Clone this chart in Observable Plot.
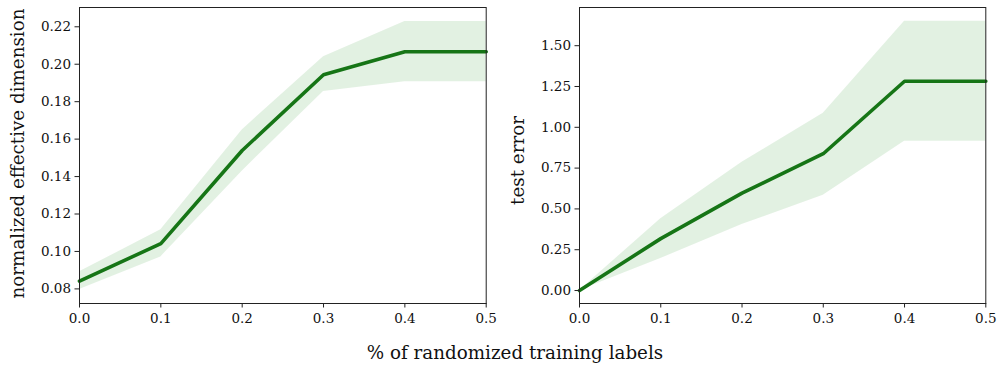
<!DOCTYPE html>
<html>
<head>
<meta charset="utf-8">
<script src="https://cdn.jsdelivr.net/npm/d3@7"></script>
<script src="https://cdn.jsdelivr.net/npm/@observablehq/plot@0.6"></script>
<style>
  html, body { margin: 0; padding: 0; background: #fff; }
  #wrap { position: relative; width: 997px; height: 367px; overflow: hidden; font-family: "DejaVu Serif", serif; }
  .panel { position: absolute; top: 0; }
  .panel svg { overflow: visible; font-family: "DejaVu Serif", serif !important; }
  .panel svg text { font-family: "DejaVu Serif", serif; }
  #xlabel { position: absolute; left: 0; width: 1030px; top: 342px; text-align: center; font-size: 18.3px; color: #111; white-space: nowrap; }
</style>
</head>
<body>
<div id="wrap">
  <div class="panel" id="left" style="left:0px"></div>
  <div class="panel" id="right" style="left:500px"></div>
  <div id="xlabel">% of randomized training labels</div>
</div>
<script>
const fractions = [0.0, 0.1, 0.2, 0.3, 0.4, 0.5];

const effDimMean  = [0.0841, 0.1042, 0.1539, 0.1944, 0.2067, 0.2067];
const effDimLow   = [0.0797, 0.0971, 0.1429, 0.1855, 0.1907, 0.1907];
const effDimHigh  = [0.0891, 0.1116, 0.1649, 0.2040, 0.2228, 0.2228];

const testErrMean = [0.000, 0.318, 0.597, 0.838, 1.282, 1.282];
const testErrLow  = [0.000, 0.196, 0.404, 0.583, 0.915, 0.915];
const testErrHigh = [0.000, 0.440, 0.786, 1.086, 1.649, 1.649];

const xTicks = [0.0, 0.1, 0.2, 0.3, 0.4, 0.5];
const effDimTicks = [0.08, 0.10, 0.12, 0.14, 0.16, 0.18, 0.20, 0.22];
const testErrTicks = [0.00, 0.25, 0.50, 0.75, 1.00, 1.25, 1.50];

const yLabels = ["normalized effective dimension", "test error"];

const lineColor = "#167516";
const bandColor = "#008000";
const serif = "DejaVu Serif";

function panel({mean, low, high, yDomain, yTicks, yLabel, width, marginRight, labelDy}) {
  const rows = fractions.map((f, i) => ({x: f, y: mean[i], lo: low[i], hi: high[i]}));
  return Plot.plot({
    width,
    height: 367,
    marginLeft: 79,
    marginRight,
    marginTop: 7,
    marginBottom: 64,
    style: {fontFamily: serif, fontSize: "13px", color: "#111", background: "transparent", overflow: "visible"},
    x: {domain: [0, 0.5]},
    y: {domain: yDomain},
    marks: [
      Plot.areaY(rows, {x: "x", y1: "lo", y2: "hi", fill: bandColor, fillOpacity: 0.115}),
      Plot.lineY(rows, {x: "x", y: "y", stroke: lineColor, strokeWidth: 3.6, strokeLinejoin: "miter"}),
      Plot.axisX({ticks: xTicks, tickFormat: d3.format(".1f"), tickSize: 4.5, tickPadding: 5, fontSize: 13.5, fontFamily: serif, label: null, stroke: "#222"}),
      Plot.axisY({ticks: yTicks, tickFormat: d3.format(".2f"), tickSize: 4.5, tickPadding: 4, fontSize: 13.5, fontFamily: serif, label: null, stroke: "#222"}),
      Plot.text([yLabel], {frameAnchor: "left", textAnchor: "middle", dx: -61, dy: labelDy, rotate: -90, fontSize: 18.3, fontFamily: serif, fill: "#111", text: d => d}),
      Plot.frame({stroke: "#222", strokeWidth: 1})
    ]
  });
}

document.getElementById("left").appendChild(panel({
  mean: effDimMean, low: effDimLow, high: effDimHigh,
  yDomain: [0.0722, 0.2303], yTicks: effDimTicks, yLabel: yLabels[0],
  width: 490, marginRight: 4.3, labelDy: -2
}));

document.getElementById("right").appendChild(panel({
  mean: testErrMean, low: testErrLow, high: testErrHigh,
  yDomain: [-0.0795, 1.734], yTicks: testErrTicks, yLabel: yLabels[1],
  width: 497, marginRight: 11.7, labelDy: 5
}));
</script>
</body>
</html>
